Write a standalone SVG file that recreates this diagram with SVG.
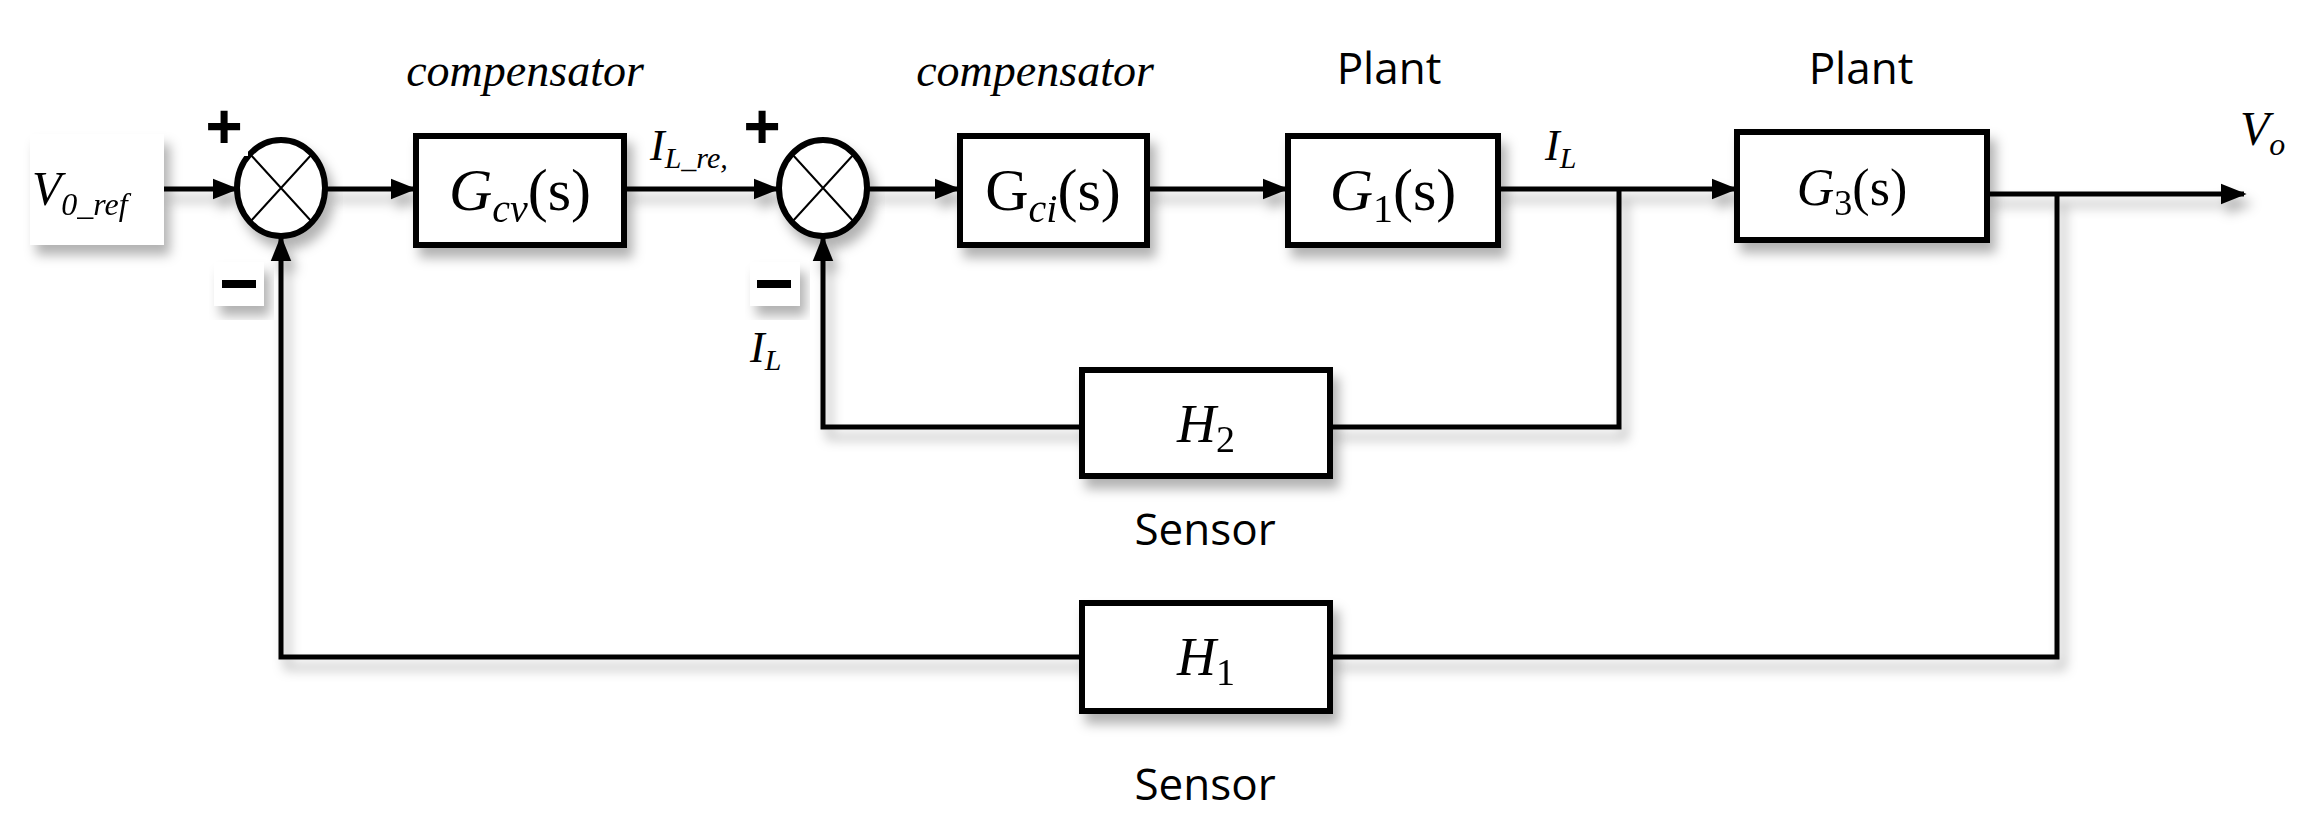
<svg xmlns="http://www.w3.org/2000/svg" width="2320" height="834" viewBox="0 0 2320 834">
<defs>
<filter id="sh" x="-10%" y="-10%" width="130%" height="140%"><feDropShadow dx="6" dy="10" stdDeviation="6" flood-color="#000" flood-opacity="0.3"/></filter>
<marker id="ar" viewBox="0 0 10 10" refX="9" refY="5" markerWidth="26" markerHeight="26" markerUnits="userSpaceOnUse" orient="auto"><path d="M0,1 L10,5 L0,9 z"/></marker>
<style>
.b{fill:#fff;stroke:#000;stroke-width:6}
.l{fill:none;stroke:#000;stroke-width:5}
.x{fill:none;stroke:#000;stroke-width:2}
.m{font-family:"Liberation Serif",serif;font-style:italic;fill:#000}
.s{font-family:"Open Sans","Liberation Sans",sans-serif;fill:#000}
</style>
</defs>
<rect width="2320" height="834" fill="#fff"/>
<g id="connectors" filter="url(#sh)">
<path class="l" d="M163,189 H236" marker-end="url(#ar)"/>
<path class="l" d="M327,189 H414" marker-end="url(#ar)"/>
<path class="l" d="M624,189 H777" marker-end="url(#ar)"/>
<path class="l" d="M869,189 H958" marker-end="url(#ar)"/>
<path class="l" d="M1147,189 H1286" marker-end="url(#ar)"/>
<path class="l" d="M1498,189 H1735" marker-end="url(#ar)"/>
<path class="l" d="M1987,194 H2244" marker-end="url(#ar)"/>
<path class="l" d="M1619,189 V427 H1330"/>
<path class="l" d="M1082,427 H823 V238" marker-end="url(#ar)"/>
<path class="l" d="M2057,194 V657 H1330"/>
<path class="l" d="M1082,657 H281 V238" marker-end="url(#ar)"/>
</g>
<g id="vref" filter="url(#sh)"><rect x="30" y="134" width="134" height="111" fill="#fff"/><text class="m" x="32" y="205" font-size="48">V<tspan font-size="32" dy="10">0_ref</tspan></text></g>
<g id="sum1" filter="url(#sh)"><ellipse class="b" cx="281" cy="188" rx="44" ry="48"/><path class="x" d="M250,154 L312,222 M312,154 L250,222"/></g>
<g id="plus1"><rect x="200" y="94" width="48" height="62" fill="#fff"/><text class="s" x="224" y="150" font-size="66" font-weight="bold" text-anchor="middle">+</text></g>
<g id="minus1"><rect x="214" y="262" width="50" height="44" fill="#fff" filter="url(#sh)"/><rect x="222" y="280" width="34" height="8"/></g>
<g id="gcv" filter="url(#sh)"><rect class="b" x="416" y="136" width="208" height="109"/><text class="m" x="520" y="210" font-size="60" text-anchor="middle">G<tspan font-size="40" dy="12">cv</tspan><tspan dy="-12" font-style="normal">(s)</tspan></text></g>
<text class="m" x="525" y="86" font-size="46" text-anchor="middle">compensator</text>
<text class="m" x="650" y="160" font-size="44">I<tspan font-size="30" dy="8">L_re,</tspan></text>
<g id="sum2" filter="url(#sh)"><ellipse class="b" cx="823" cy="188" rx="44" ry="48"/><path class="x" d="M792,154 L854,222 M854,154 L792,222"/></g>
<g id="plus2"><rect x="738" y="94" width="48" height="62" fill="#fff"/><text class="s" x="762" y="150" font-size="66" font-weight="bold" text-anchor="middle">+</text></g>
<g id="minus2"><rect x="750" y="262" width="50" height="44" fill="#fff" filter="url(#sh)"/><rect x="757" y="280" width="34" height="8"/></g>
<text class="m" x="750" y="362" font-size="44">I<tspan font-size="30" dy="8">L</tspan></text>
<g id="gci" filter="url(#sh)"><rect class="b" x="960" y="136" width="187" height="109"/><text class="m" x="1053" y="210" font-size="60" text-anchor="middle"><tspan font-style="normal">G</tspan><tspan font-size="40" dy="12">ci</tspan><tspan dy="-12" font-style="normal">(s)</tspan></text></g>
<text class="m" x="1035" y="86" font-size="46" text-anchor="middle">compensator</text>
<g id="g1" filter="url(#sh)"><rect class="b" x="1288" y="136" width="210" height="109"/><text class="m" x="1393" y="210" font-size="60" text-anchor="middle">G<tspan font-size="40" dy="12" font-style="normal">1</tspan><tspan dy="-12" font-style="normal">(s)</tspan></text></g>
<text class="s" x="1389" y="84" font-size="44" text-anchor="middle">Plant</text>
<text class="m" x="1545" y="160" font-size="44">I<tspan font-size="30" dy="8">L</tspan></text>
<g id="g3" filter="url(#sh)"><rect class="b" x="1737" y="132" width="250" height="108"/><text class="m" x="1852" y="205" font-size="52" text-anchor="middle">G<tspan font-size="36" dy="10" font-style="normal">3</tspan><tspan dy="-10" font-style="normal">(s)</tspan></text></g>
<text class="s" x="1861" y="84" font-size="44" text-anchor="middle">Plant</text>
<text class="m" x="2240" y="145" font-size="48">V<tspan font-size="32" dy="10">o</tspan></text>
<g id="h2" filter="url(#sh)"><rect class="b" x="1082" y="370" width="248" height="106"/><text class="m" x="1206" y="442" font-size="54" text-anchor="middle">H<tspan font-size="38" dy="10" font-style="normal">2</tspan></text></g>
<text class="s" x="1205" y="545" font-size="44" text-anchor="middle">Sensor</text>
<g id="h1" filter="url(#sh)"><rect class="b" x="1082" y="603" width="248" height="108"/><text class="m" x="1206" y="675" font-size="54" text-anchor="middle">H<tspan font-size="38" dy="10" font-style="normal">1</tspan></text></g>
<text class="s" x="1205" y="800" font-size="44" text-anchor="middle">Sensor</text>
</svg>
